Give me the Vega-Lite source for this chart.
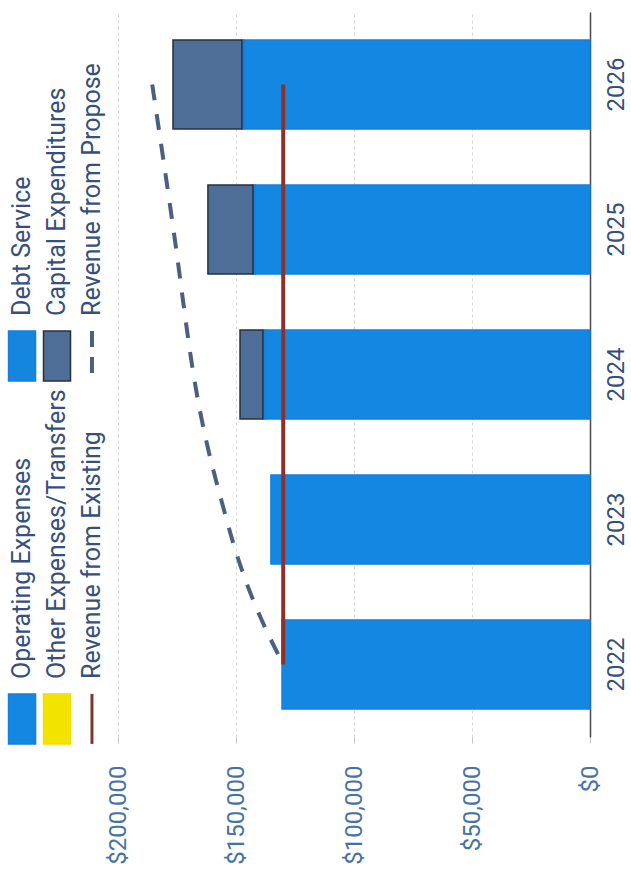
{
  "$schema": "https://vega.github.io/schema/vega-lite/v6.json",
  "background": "white",
  "padding": {"left": 0, "top": 12, "right": 0, "bottom": 0},
  "spacing": 4,
  "bounds": "flush",
  "config": {
    "view": {"stroke": null},
    "font": "Roboto"
  },
  "datasets": {
    "spending": [
      {"year": 2022, "series": "Operating Expenses", "amount": 130500},
      {"year": 2023, "series": "Operating Expenses", "amount": 135200},
      {"year": 2024, "series": "Operating Expenses", "amount": 137600},
      {"year": 2024, "series": "Debt Service", "amount": 1000},
      {"year": 2024, "series": "Capital Expenditures", "amount": 9700},
      {"year": 2025, "series": "Operating Expenses", "amount": 141800},
      {"year": 2025, "series": "Debt Service", "amount": 1000},
      {"year": 2025, "series": "Capital Expenditures", "amount": 19100},
      {"year": 2026, "series": "Operating Expenses", "amount": 146500},
      {"year": 2026, "series": "Debt Service", "amount": 1000},
      {"year": 2026, "series": "Capital Expenditures", "amount": 29200}
    ],
    "revenue": [
      {"year": 2022, "series": "Revenue from Existing", "amount": 130000},
      {"year": 2023, "series": "Revenue from Existing", "amount": 130000},
      {"year": 2024, "series": "Revenue from Existing", "amount": 130000},
      {"year": 2025, "series": "Revenue from Existing", "amount": 130000},
      {"year": 2026, "series": "Revenue from Existing", "amount": 130000},
      {"year": 2022, "series": "Revenue from Proposed", "amount": 130000},
      {"year": 2023, "series": "Revenue from Proposed", "amount": 154000},
      {"year": 2024, "series": "Revenue from Proposed", "amount": 168000},
      {"year": 2025, "series": "Revenue from Proposed", "amount": 176500},
      {"year": 2026, "series": "Revenue from Proposed", "amount": 185500}
    ],
    "legendEntries": [
      {"series": "Operating Expenses", "label": "Operating Expenses", "kind": "bar", "legendColumn": 1, "legendRow": "lower"},
      {"series": "Debt Service", "label": "Debt Service", "kind": "bar", "legendColumn": 1, "legendRow": "upper"},
      {"series": "Other Expenses/Transfers", "label": "Other Expenses/Transfers", "kind": "bar", "legendColumn": 2, "legendRow": "lower"},
      {"series": "Capital Expenditures", "label": "Capital Expenditures", "kind": "bar", "legendColumn": 2, "legendRow": "upper"},
      {"series": "Revenue from Existing", "label": "Revenue from Existing", "kind": "line", "legendColumn": 3, "legendRow": "lower"},
      {"series": "Revenue from Proposed", "label": "Revenue from Propose", "kind": "line", "legendColumn": 3, "legendRow": "upper"}
    ]
  },
  "hconcat": [
    {
      "width": 114,
      "height": 725,
      "data": {"name": "legendEntries"},
      "encoding": {
        "x": {"field": "legendColumn", "type": "ordinal", "scale": {"type": "point", "padding": 0.63}, "axis": null},
        "y": {"field": "legendRow", "type": "ordinal", "sort": ["upper", "lower"], "scale": {"type": "point", "padding": 0.4986, "align": 0.95}, "axis": null}
      },
      "layer": [
        {
          "transform": [{"filter": "datum.kind === 'bar'"}],
          "mark": {"type": "point", "shape": "M-0.54,-1H0.54V1H-0.54Z", "size": 2500, "filled": true, "opacity": 1, "strokeWidth": 1.5},
          "encoding": {
            "fill": {
              "field": "series", "type": "nominal", "legend": null,
              "scale": {
                "domain": ["Operating Expenses", "Debt Service", "Other Expenses/Transfers", "Capital Expenditures"],
                "range": ["#1487e2", "#1585de", "#f3e300", "#4e6d97"]
              }
            },
            "stroke": {
              "field": "series", "type": "nominal", "legend": null,
              "scale": {
                "domain": ["Operating Expenses", "Debt Service", "Other Expenses/Transfers", "Capital Expenditures"],
                "range": ["#1380dc", "#1380dc", "#f0de00", "#27303f"]
              }
            }
          }
        },
        {
          "transform": [{"filter": "datum.series === 'Revenue from Existing'"}],
          "mark": {"type": "point", "shape": "M0,-1V1", "size": 2500, "filled": false, "opacity": 1, "stroke": "#7e3630", "strokeWidth": 3}
        },
        {
          "transform": [{"filter": "datum.series === 'Revenue from Proposed'"}],
          "mark": {"type": "point", "shape": "M0,-1V1", "size": 2500, "filled": false, "opacity": 1, "stroke": "#4b5f80", "strokeWidth": 4, "strokeDash": [16, 10]}
        },
        {
          "mark": {"type": "text", "angle": 270, "align": "left", "baseline": "middle", "dx": 40, "fontSize": 25, "font": "Roboto", "color": "#36507a"},
          "encoding": {"text": {"field": "label", "type": "nominal"}}
        }
      ]
    },
    {
      "width": 472,
      "height": 725,
      "encoding": {
        "y": {
          "field": "year", "type": "ordinal", "sort": "descending",
          "scale": {"paddingInner": 0.386, "paddingOuter": 0.193},
          "axis": {
            "orient": "right", "title": null, "ticks": false, "grid": false,
            "domain": true, "domainColor": "#4a4a4a", "domainWidth": 1.5,
            "labelAngle": 270, "labelAlign": "center", "labelBaseline": "middle", "labelPadding": 26,
            "labelFont": "Roboto", "labelFontSize": 24, "labelColor": "#34507a"
          }
        },
        "x": {
          "field": "amount", "type": "quantitative",
          "scale": {"domain": [0, 200000], "reverse": true, "nice": false},
          "axis": {
            "orient": "bottom", "title": null, "values": [0, 50000, 100000, 150000, 200000], "format": "$,.0f",
            "domain": false, "grid": true, "gridColor": "#d6d6d6", "gridDash": [3, 3],
            "ticks": true, "tickSize": 6, "tickColor": "#c4c4c4",
            "labelAngle": 270, "labelAlign": "right", "labelBaseline": "middle", "labelPadding": 22,
            "labelFlush": false, "labelOverlap": false,
            "labelFont": "Roboto", "labelFontSize": 24, "labelColor": "#4672a2"
          }
        }
      },
      "layer": [
        {
          "data": {"name": "spending"},
          "mark": {"type": "bar", "strokeWidth": 1.5},
          "encoding": {
            "x": {"field": "amount", "type": "quantitative", "stack": "zero"},
            "fill": {
              "field": "series", "type": "nominal", "legend": null,
              "scale": {
                "domain": ["Operating Expenses", "Debt Service", "Other Expenses/Transfers", "Capital Expenditures"],
                "range": ["#1487e2", "#1585de", "#f3e300", "#4e6d97"]
              }
            },
            "stroke": {
              "field": "series", "type": "nominal", "legend": null,
              "scale": {
                "domain": ["Operating Expenses", "Debt Service", "Other Expenses/Transfers", "Capital Expenditures"],
                "range": ["#1380dc", "#6ccff8", "#f0de00", "#27303f"]
              }
            },
            "order": {"field": "series", "sort": "descending"}
          }
        },
        {
          "data": {"name": "revenue"},
          "transform": [{"filter": "datum.series === 'Revenue from Existing'"}],
          "mark": {"type": "line", "color": "#8e302b", "strokeWidth": 4},
          "encoding": {}
        },
        {
          "data": {"name": "revenue"},
          "transform": [{"filter": "datum.series === 'Revenue from Proposed'"}],
          "mark": {"type": "line", "color": "#4b5f80", "strokeWidth": 4, "strokeDash": [16, 14], "interpolate": "monotone"},
          "encoding": {}
        }
      ]
    }
  ]
}
